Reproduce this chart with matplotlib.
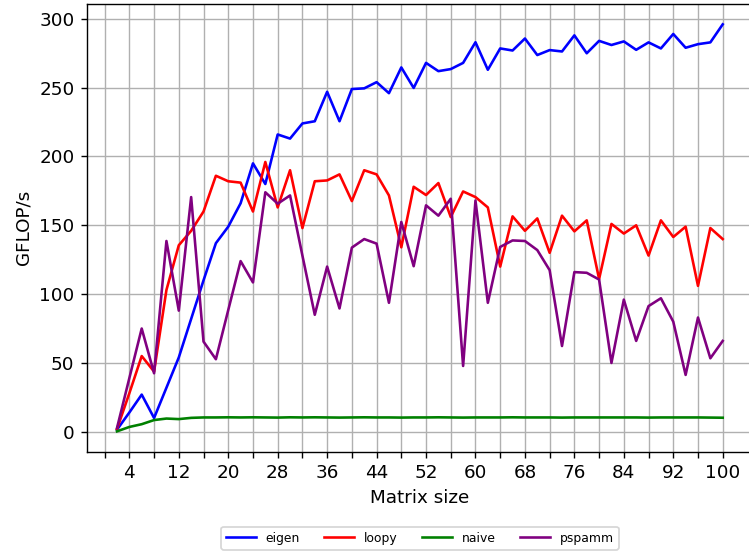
import matplotlib
matplotlib.use("Agg")
import matplotlib.pyplot as plt

sizes = [2, 4, 6, 8, 10, 12, 14, 16, 18, 20,
         22, 24, 26, 28, 30, 32, 34, 36, 38, 40,
         42, 44, 46, 48, 50, 52, 54, 56, 58, 60,
         62, 64, 66, 68, 70, 72, 74, 76, 78, 80,
         82, 84, 86, 88, 90, 92, 94, 96, 98, 100]

eigen = [1.5, 14, 27, 10, 32, 54, 82, 110, 137, 149,
         166, 195, 180, 216, 213, 224, 225.6, 247, 225.6, 249,
         249.5, 254, 246, 264.7, 249.8, 268, 262, 263.5, 268, 283,
         263, 278.5, 277, 285.7, 273.7, 277.3, 276.3, 288, 275, 284,
         281, 283.6, 277.5, 282.9, 278.5, 289, 279, 281.6, 282.9, 296]

loopy = [2, 28, 55, 43.7, 103, 135.5, 146, 160, 186, 182,
         181, 160, 196, 163, 190, 148, 182, 182.6, 187, 167.6,
         190, 187, 171.7, 134, 178, 172, 180.7, 156, 174.6, 170.5,
         163, 120, 156.5, 146, 155, 130, 157, 145.6, 153.6, 111,
         151, 144, 150, 128, 153.6, 141.5, 149, 106, 148, 140]

naive = [0.3, 3.5, 5.5, 8.5, 9.6, 9.2, 10.1, 10.4, 10.4, 10.5,
         10.4, 10.5, 10.4, 10.3, 10.5, 10.4, 10.5, 10.4, 10.3, 10.4,
         10.5, 10.4, 10.4, 10.3, 10.4, 10.4, 10.5, 10.4, 10.3, 10.4,
         10.4, 10.4, 10.5, 10.4, 10.4, 10.4, 10.3, 10.4, 10.4, 10.4,
         10.4, 10.4, 10.4, 10.3, 10.4, 10.4, 10.4, 10.4, 10.3, 10.2]

pspamm = [2.7, 39, 75, 42.5, 138.6, 88, 170.5, 65.5, 52.7, 88.4,
          124, 108.5, 174, 165.7, 171.7, 128, 85, 120, 89.6, 133.8,
          140, 136.7, 93.7, 152.4, 120.3, 164.5, 157, 169.3, 47.8, 168,
          93.7, 134.3, 139, 138.6, 132, 117.4, 62.3, 116, 115.5, 110.6,
          50, 96, 66, 91.3, 97, 80, 41.3, 83, 53.4, 66]

series = [("eigen", eigen, "blue"),
          ("loopy", loopy, "red"),
          ("naive", naive, "green"),
          ("pspamm", pspamm, "purple")]

tick_positions = list(range(0, 101, 4))
tick_labels = [str(t) if t % 8 == 4 else "" for t in tick_positions]

plt.rcParams["font.size"] = 10.6

DPI = 125
W, H = 749, 551
fig = plt.figure(figsize=(W / DPI, H / DPI), dpi=DPI)

# axes box in pixels: left 86.7, right ~753, top ~4, bottom ~451.7
left, right, top, bottom = 86.7, 753.0, 4.0, 451.7
ax = fig.add_axes([left / W, 1 - bottom / H, (right - left) / W, (bottom - top) / H])

for name, vals, color in series:
    ax.plot(sizes, vals, color=color, linewidth=1.5, label=name)

ax.set_xticks(tick_positions)
ax.set_xticklabels(tick_labels)
ax.set_yticks([0, 50, 100, 150, 200, 250, 300])
ax.grid(True)
ax.set_xlabel("Matrix size")
ax.set_ylabel("GFLOP/s")

fig.legend(loc="upper center", bbox_to_anchor=(420 / W, 1 - 526.7 / H),
           bbox_transform=fig.transFigure, ncol=4, fontsize=7.1,
           handlelength=2.4, borderaxespad=0)

fig.savefig("out.png", dpi=DPI)
